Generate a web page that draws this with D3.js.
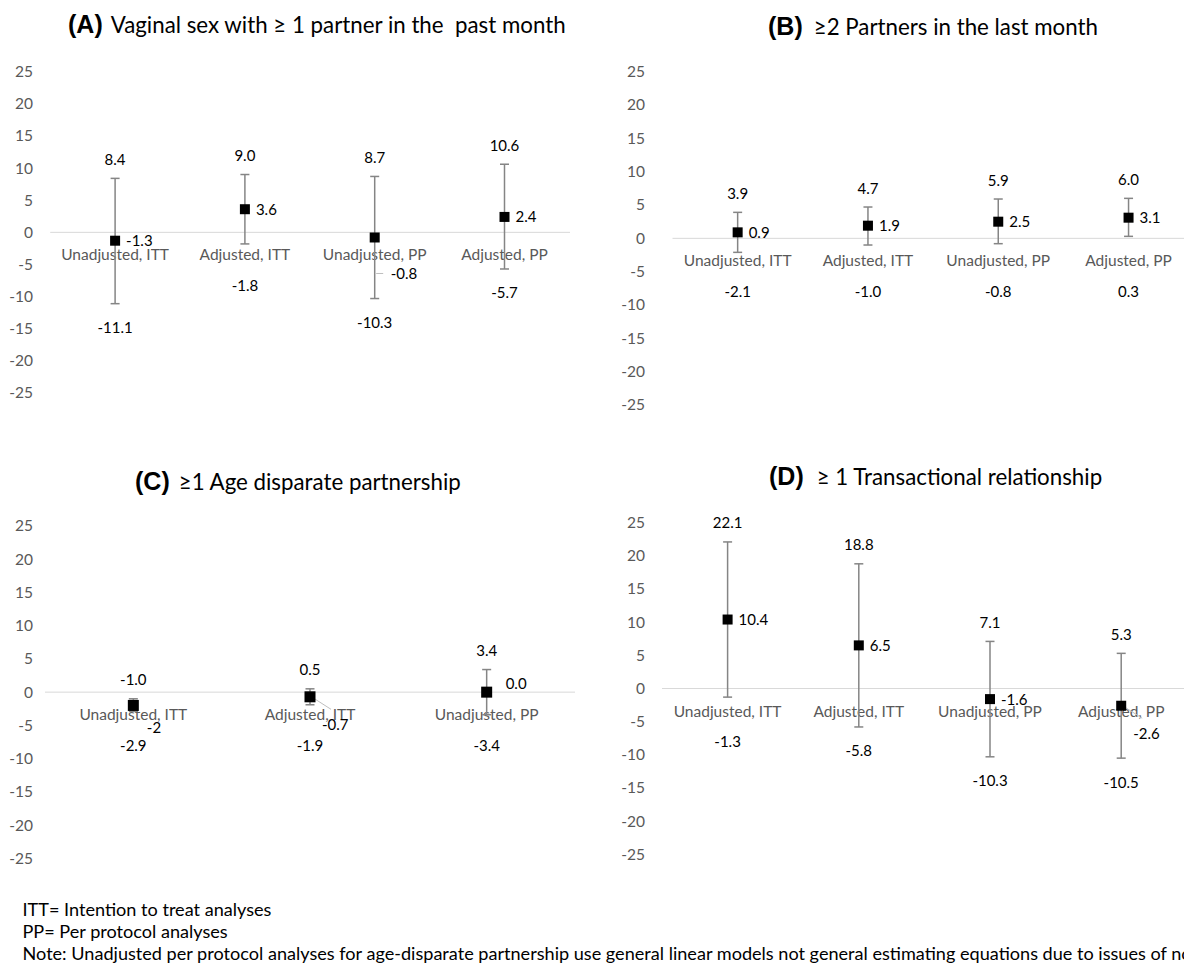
<!DOCTYPE html>
<html>
<head>
<meta charset="utf-8">
<script src="https://cdn.jsdelivr.net/npm/d3@7"></script>
<style>
  body { margin: 0; background: #fff; }
  text { font-family: Lato, "Open Sans", sans-serif; }
</style>
</head>
<body>
<div id="chart"></div>
<script>
var yTicks = [25, 20, 15, 10, 5, 0, -5, -10, -15, -20, -25];

var catsFour = ["Unadjusted, ITT", "Adjusted, ITT", "Unadjusted, PP", "Adjusted, PP"];
var catsThree = ["Unadjusted, ITT", "Adjusted, ITT", "Unadjusted, PP"];

// (A) vaginal sex with >= 1 partner
var aEst  = ["-1.3", "3.6", "-0.8", "2.4"];
var aLow  = ["-11.1", "-1.8", "-10.3", "-5.7"];
var aHigh = ["8.4", "9.0", "8.7", "10.6"];
var aPlace = ["right", "right", "hlead", "right"];

// (B) >= 2 partners
var bEst  = ["0.9", "1.9", "2.5", "3.1"];
var bLow  = ["-2.1", "-1.0", "-0.8", "0.3"];
var bHigh = ["3.9", "4.7", "5.9", "6.0"];
var bPlace = ["right", "right", "right", "right"];

// (C) age disparate partnership
var cEst  = ["-2", "-0.7", "0.0"];
var cLow  = ["-2.9", "-1.9", "-3.4"];
var cHigh = ["-1.0", "0.5", "3.4"];
var cPlace = ["below", "dlead", "upright"];

// (D) transactional relationship
var dEst  = ["10.4", "6.5", "-1.6", "-2.6"];
var dLow  = ["-1.3", "-5.8", "-10.3", "-10.5"];
var dHigh = ["22.1", "18.8", "7.1", "5.3"];
var dPlace = ["right", "right", "right", "dlead"];

var notes = [
  "ITT= Intention to treat analyses",
  "PP= Per protocol analyses",
  "Note: Unadjusted per protocol analyses for age-disparate partnership use general linear models not general estimating equations due to issues of non-convergence"
];

var panels = [
  {letter: "(A)", title: "Vaginal sex with \u2265 1 partner in the  past month",
   cats: catsFour, est: aEst, low: aLow, high: aHigh, place: aPlace,
   titleX: 68, titleY: 33, gap: 8, tickX: 33, x0: 50.2, x1: 569.4, lineEnd: 570,
   yTop: 71.7, yBot: 393, mark: 10},
  {letter: "(B)", title: "\u22652 Partners in the last month",
   cats: catsFour, est: bEst, low: bLow, high: bHigh, place: bPlace,
   titleX: 768, titleY: 35, gap: 11, tickX: 645, x0: 672.5, x1: 1193.7, lineEnd: 1184,
   yTop: 71.7, yBot: 405, mark: 10},
  {letter: "(C)", title: "\u22651 Age disparate partnership",
   cats: catsThree, est: cEst, low: cLow, high: cHigh, place: cPlace,
   titleX: 135, titleY: 490, gap: 9, tickX: 33, x0: 45, x1: 575, lineEnd: 575,
   yTop: 526, yBot: 858.3, mark: 11},
  {letter: "(D)", title: "\u2265 1 Transactional relationship",
   cats: catsFour, est: dEst, low: dLow, high: dHigh, place: dPlace,
   titleX: 769, titleY: 485, gap: 13, tickX: 645, x0: 662, x1: 1186.8, lineEnd: 1184,
   yTop: 522.7, yBot: 854.3, mark: 10}
];

var svg = d3.select("#chart").append("svg")
    .attr("width", 1184)
    .attr("height", 965);

panels.forEach(drawPanel);

function drawPanel(p) {
  var g = svg.append("g");

  var y = d3.scaleLinear().domain([-25, 25]).range([p.yBot, p.yTop]);
  var x = d3.scaleBand().domain(p.cats).range([p.x0, p.x1]);
  var cx = function(c) { return x(c) + x.bandwidth() / 2; };
  var y0 = y(0);

  var rows = p.cats.map(function(c, i) {
    return {cat: c, est: +p.est[i], low: +p.low[i], high: +p.high[i],
            estText: p.est[i], lowText: p.low[i], highText: p.high[i], place: p.place[i]};
  });

  // title: bold letter + plain text
  var t = g.append("text")
      .attr("x", p.titleX)
      .attr("y", p.titleY)
      .style("white-space", "pre")
      .attr("fill", "#000");
  t.append("tspan")
      .style("font-family", "'Liberation Sans', Arial, sans-serif")
      .attr("font-weight", "bold")
      .attr("font-size", 25)
      .text(p.letter);
  t.append("tspan")
      .attr("dx", p.gap)
      .attr("font-size", 22.3)
      .text(p.title);

  // y tick labels only
  g.append("g")
      .attr("transform", "translate(" + p.tickX + ",0)")
      .call(d3.axisLeft(y).tickValues(yTicks).tickSize(0).tickPadding(0)
        .tickFormat(function(d) { return String(d); }))
      .call(function(a) { a.select(".domain").remove(); })
    .selectAll("text")
      .style("font-family", "Lato, sans-serif")
      .attr("font-size", 15.5)
      .attr("fill", "#595959");

  // zero line
  g.append("line")
      .attr("x1", p.x0)
      .attr("x2", p.lineEnd)
      .attr("y1", y0)
      .attr("y2", y0)
      .attr("stroke", "#d9d9d9")
      .attr("stroke-width", 1);

  // category labels sit just under the zero line
  g.selectAll(".cat")
      .data(rows)
    .enter().append("text")
      .attr("class", "cat")
      .attr("x", function(d) { return cx(d.cat); })
      .attr("y", y0 + 28)
      .attr("text-anchor", "middle")
      .attr("font-size", 15.5)
      .attr("fill", "#595959")
      .text(function(d) { return d.cat; });

  // error bars
  var bars = g.selectAll(".bar")
      .data(rows)
    .enter().append("g")
      .attr("class", "bar")
      .attr("stroke", "#858585")
      .attr("stroke-width", 1.5);
  bars.append("line")
      .attr("x1", function(d) { return cx(d.cat); })
      .attr("x2", function(d) { return cx(d.cat); })
      .attr("y1", function(d) { return y(d.low); })
      .attr("y2", function(d) { return y(d.high); });
  bars.append("line")
      .attr("x1", function(d) { return cx(d.cat) - 4.5; })
      .attr("x2", function(d) { return cx(d.cat) + 4.5; })
      .attr("y1", function(d) { return y(d.low); })
      .attr("y2", function(d) { return y(d.low); });
  bars.append("line")
      .attr("x1", function(d) { return cx(d.cat) - 4.5; })
      .attr("x2", function(d) { return cx(d.cat) + 4.5; })
      .attr("y1", function(d) { return y(d.high); })
      .attr("y2", function(d) { return y(d.high); });

  // leader lines for moved labels
  g.selectAll(".lead")
      .data(rows.filter(function(d) { return d.place == "hlead" || d.place == "dlead"; }))
    .enter().append("line")
      .attr("class", "lead")
      .attr("stroke", "#bfbfbf")
      .attr("stroke-width", 1)
      .attr("x1", function(d) { return cx(d.cat) + (d.place == "hlead" ? 1.5 : 3); })
      .attr("y1", function(d) { return y(d.est) + (d.place == "hlead" ? 36 : 1); })
      .attr("x2", function(d) { return cx(d.cat) + (d.place == "hlead" ? 8.5 : 21); })
      .attr("y2", function(d) { return y(d.est) + (d.place == "hlead" ? 36 : 12.5); });

  // markers
  g.selectAll(".dot")
      .data(rows)
    .enter().append("rect")
      .attr("class", "dot")
      .attr("x", function(d) { return cx(d.cat) - p.mark / 2; })
      .attr("y", function(d) { return y(d.est) - p.mark / 2; })
      .attr("width", p.mark)
      .attr("height", p.mark)
      .attr("fill", "#000");

  // upper / lower CI labels
  g.selectAll(".hi")
      .data(rows)
    .enter().append("text")
      .attr("class", "hi")
      .attr("x", function(d) { return cx(d.cat); })
      .attr("y", function(d) { return y(d.high) - 13.5; })
      .attr("text-anchor", "middle")
      .attr("font-size", 15)
      .attr("fill", "#000")
      .text(function(d) { return d.highText; });

  g.selectAll(".lo")
      .data(rows)
    .enter().append("text")
      .attr("class", "lo")
      .attr("x", function(d) { return cx(d.cat); })
      .attr("y", function(d) { return Math.max(y(d.low) + 24, y0 + 53) + 5.5; })
      .attr("text-anchor", "middle")
      .attr("font-size", 15)
      .attr("fill", "#000")
      .text(function(d) { return d.lowText; });

  // point estimate labels
  var off = {
    right:   [11, 0],
    hlead:   [16, 36],
    below:   [13.5, 21.7],
    dlead:   [12, 27.5],
    upright: [19, -9]
  };
  g.selectAll(".est")
      .data(rows)
    .enter().append("text")
      .attr("class", "est")
      .attr("x", function(d) { return cx(d.cat) + off[d.place][0]; })
      .attr("y", function(d) { return y(d.est) + off[d.place][1] + 5.5; })
      .attr("font-size", 15)
      .attr("fill", "#000")
      .text(function(d) { return d.estText; });
}

// footnotes
svg.selectAll(".note")
    .data(notes)
  .enter().append("text")
    .attr("class", "note")
    .attr("x", 22.5)
    .attr("y", function(d, i) { return 916 + i * 22; })
    .attr("font-size", 18.1)
    .attr("fill", "#000")
    .text(function(d) { return d; });
</script>
</body>
</html>
